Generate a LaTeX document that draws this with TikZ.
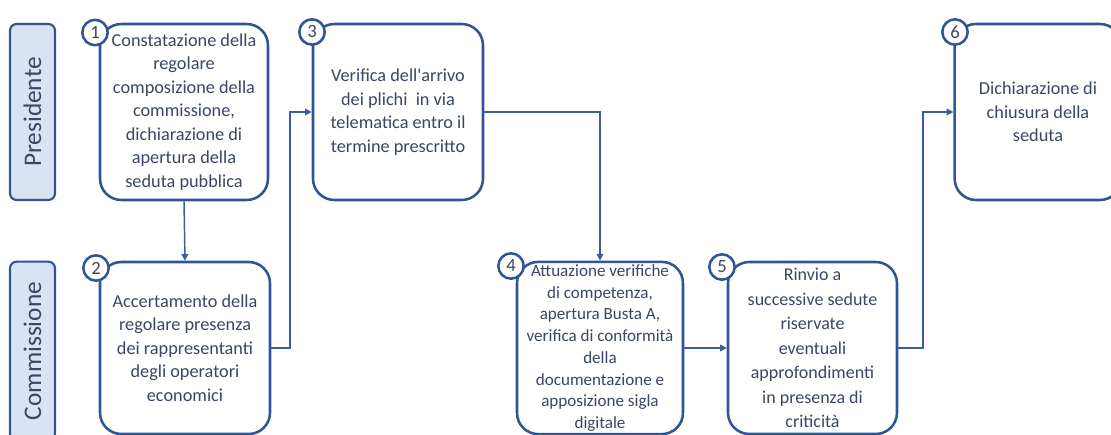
\documentclass[tikz,border=0pt]{standalone}
\usepackage{fontspec}
\setmainfont{Carlito}
\usetikzlibrary{arrows.meta}
\definecolor{frameblue}{HTML}{2F5597}
\definecolor{lanefill}{HTML}{DAE3F3}
\definecolor{inktext}{HTML}{3A4663}
\definecolor{linkblue}{HTML}{3A5DA0}
\tikzset{
  stepbox/.style={draw=frameblue, line width=1.9pt, rounded corners=16pt, fill=white,
    align=center, text=inktext, inner sep=2pt,
    font=\fontsize{13.7}{17.6}\selectfont},
  lanebox/.style={draw=frameblue, line width=1.6pt, rounded corners=5pt, fill=lanefill,
    minimum height=33.75pt, text=inktext, font=\fontsize{19}{22}\selectfont},
  numdot/.style={circle, draw=frameblue, line width=1.9pt, fill=white, minimum size=19pt,
    inner sep=0pt, text=inktext, font=\fontsize{14}{15}\selectfont},
  link/.style={draw=linkblue, line width=1.1pt, -{Triangle[length=5pt,width=5pt]}},
}
\begin{document}
\begin{tikzpicture}[x=0.75pt,y=-0.75pt]
\useasboundingbox (0,0) rectangle (1111,435);
\clip (0,0) rectangle (1111,435);

% swimlane labels (rotated, so the width runs along the lane)
\node[lanebox, minimum width=132pt, rotate=90] (lanePres) at (32.5,112) {Presidente};
\node[lanebox, minimum width=134pt, rotate=90] (laneComm) at (32.5,351) {Commissione};

% process steps
\node[stepbox, minimum width=126pt, minimum height=132pt] (s1) at (184,112)
  {Constatazione della\\regolare\\composizione della\\commissione,\\dichiarazione di\\apertura della\\seduta pubblica};
\node[stepbox, minimum width=127.5pt, minimum height=129pt] (s2) at (185,348)
  {Accertamento della\\regolare presenza\\dei rappresentanti\\degli operatori\\economici};
\node[stepbox, minimum width=127.5pt, minimum height=132pt] (s3) at (398,112)
  {Verifica dell\textquotesingle arrivo\\dei plichi\ \ in via\\telematica entro il\\termine prescritto};
\node[stepbox, minimum width=124.5pt, minimum height=129pt,
      font=\fontsize{12.8}{16.3}\selectfont] (s4) at (600,348)
  {Attuazione verifiche\\di competenza,\\apertura Busta A,\\verifica di conformità\\della\\documentazione e\\apposizione sigla\\digitale};
\node[stepbox, minimum width=126.75pt, minimum height=129pt,
      font=\fontsize{13.5}{18.4}\selectfont] (s5) at (812.5,348)
  {Rinvio a\\successive sedute\\riservate\\eventuali\\approfondimenti\\in presenza di\\criticità};
\node[stepbox, minimum width=125pt, minimum height=132pt] (s6) at (1038,112)
  {Dichiarazione di\\chiusura della\\seduta};

% step numbers
\node[numdot] (n1) at (95,32.5) {1};
\node[numdot] (n2) at (96,268) {2};
\node[numdot] (n3) at (312,32) {3};
\node[numdot] (n4) at (511,266) {4};
\node[numdot] (n5) at (722,267) {5};
\node[numdot] (n6) at (955,32) {6};

% connectors
\coordinate (j23) at (290,348);
\coordinate (j56) at (923,348);
\draw[link] (s1.south) -- (s2.north);
\draw[link] (s2.east) -- (j23) |- (s3.west);
\draw[link] (s3.east) -| (s4.north);
\draw[link] (s4.east) -- (s5.west);
\draw[link] (s5.east) -- (j56) |- (s6.west);
\end{tikzpicture}
\end{document}
